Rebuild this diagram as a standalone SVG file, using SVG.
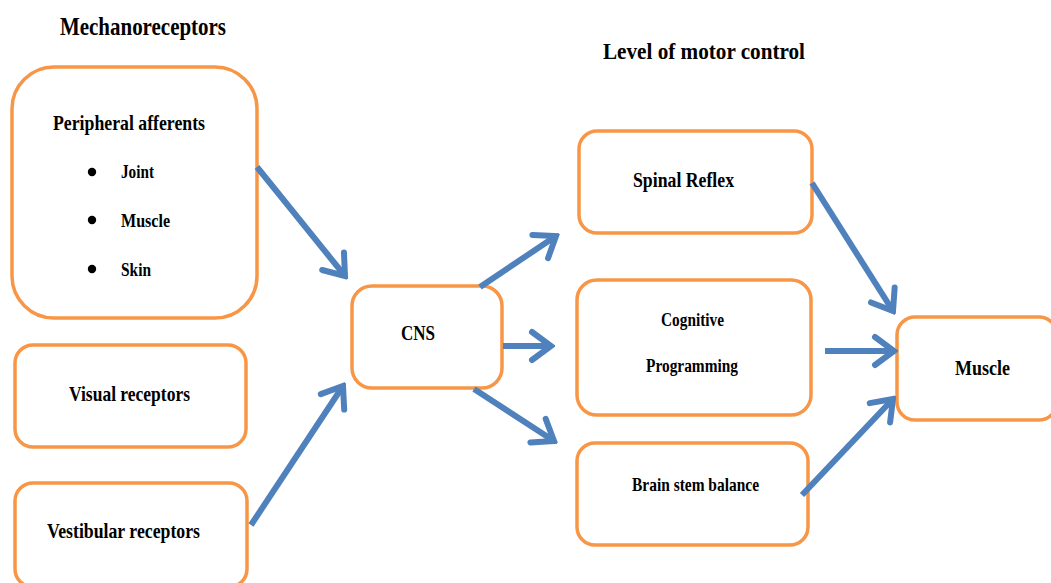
<svg xmlns="http://www.w3.org/2000/svg" width="1051" height="583" viewBox="0 0 1051 583">
  <style>
    .box { fill: #ffffff; stroke: #F79646; stroke-width: 3.5; }
    .lbl { font-family: "Liberation Serif", "Times New Roman", serif; font-weight: bold; fill: #000000; }
    .conn { stroke: #4F81BD; stroke-width: 6; fill: none; marker-end: url(#chev); }
  </style>
  <defs>
    <marker id="chev" markerUnits="userSpaceOnUse" viewBox="-26 -20 30 40" markerWidth="30" markerHeight="40" refX="0" refY="0" orient="auto">
      <path d="M-19,-14 L0,0 L-19,14" fill="none" stroke="#4F81BD" stroke-width="6" stroke-linecap="round" stroke-linejoin="miter"/>
    </marker>
  </defs>

  <rect width="1051" height="583" fill="#ffffff"/>

  <!-- headings -->
  <text class="lbl" x="60" y="35" font-size="25" textLength="166" lengthAdjust="spacingAndGlyphs">Mechanoreceptors</text>
  <text class="lbl" x="603" y="59" font-size="24" textLength="202" lengthAdjust="spacingAndGlyphs">Level of motor control</text>

  <!-- sensory inputs -->
  <g id="peripheral">
    <rect class="box" x="12" y="67" width="245" height="251" rx="42"/>
    <text class="lbl" x="53" y="130" font-size="21" textLength="152" lengthAdjust="spacingAndGlyphs">Peripheral  afferents</text>
    <circle cx="92" cy="172" r="4.2" fill="#000"/>
    <circle cx="92" cy="220" r="4.2" fill="#000"/>
    <circle cx="92" cy="269" r="4.2" fill="#000"/>
    <text class="lbl" x="121" y="178" font-size="18" textLength="33" lengthAdjust="spacingAndGlyphs">Joint</text>
    <text class="lbl" x="121" y="227" font-size="18" textLength="49" lengthAdjust="spacingAndGlyphs">Muscle</text>
    <text class="lbl" x="121" y="276" font-size="18" textLength="30" lengthAdjust="spacingAndGlyphs">Skin</text>
  </g>

  <g id="visual">
    <rect class="box" x="15" y="345" width="231" height="102" rx="18"/>
    <text class="lbl" x="69" y="401" font-size="21" textLength="121" lengthAdjust="spacingAndGlyphs">Visual receptors</text>
  </g>

  <g id="vestibular">
    <rect class="box" x="15" y="483" width="232" height="104" rx="18"/>
    <text class="lbl" x="47" y="538" font-size="21" textLength="153" lengthAdjust="spacingAndGlyphs">Vestibular  receptors</text>
  </g>

  <g id="cns">
    <rect class="box" x="352" y="286" width="150" height="102" rx="20"/>
    <text class="lbl" x="401" y="340" font-size="20" textLength="34" lengthAdjust="spacingAndGlyphs">CNS</text>
  </g>

  <!-- levels of motor control -->
  <g id="spinal-reflex">
    <rect class="box" x="579" y="131" width="233" height="102" rx="18"/>
    <text class="lbl" x="633" y="187" font-size="21" textLength="101" lengthAdjust="spacingAndGlyphs">Spinal Reflex</text>
  </g>

  <g id="cognitive">
    <rect class="box" x="577" y="280" width="234" height="135" rx="20"/>
    <text class="lbl" x="661" y="326" font-size="18" textLength="63" lengthAdjust="spacingAndGlyphs">Cognitive</text>
    <text class="lbl" x="646" y="372" font-size="18" textLength="92" lengthAdjust="spacingAndGlyphs">Programming</text>
  </g>

  <g id="brain-stem">
    <rect class="box" x="577" y="443" width="231" height="102" rx="18"/>
    <text class="lbl" x="632" y="491" font-size="19" textLength="127" lengthAdjust="spacingAndGlyphs">Brain stem  balance</text>
  </g>

  <g id="muscle">
    <rect class="box" x="897" y="317" width="160" height="103" rx="18"/>
    <text class="lbl" x="955" y="375" font-size="20" textLength="55" lengthAdjust="spacingAndGlyphs">Muscle</text>
  </g>

  <!-- connectors -->
  <g id="connectors">
    <line class="conn" x1="257" y1="167" x2="345" y2="276"/>
    <line class="conn" x1="251" y1="525" x2="343" y2="386"/>
    <line class="conn" x1="480" y1="287" x2="556" y2="236"/>
    <line class="conn" x1="503" y1="346" x2="551" y2="346"/>
    <line class="conn" x1="474" y1="389" x2="554" y2="441"/>
    <line class="conn" x1="812" y1="183" x2="893" y2="311"/>
    <line class="conn" x1="825" y1="351" x2="894" y2="351"/>
    <line class="conn" x1="802" y1="495" x2="893" y2="399"/>
  </g>
</svg>
